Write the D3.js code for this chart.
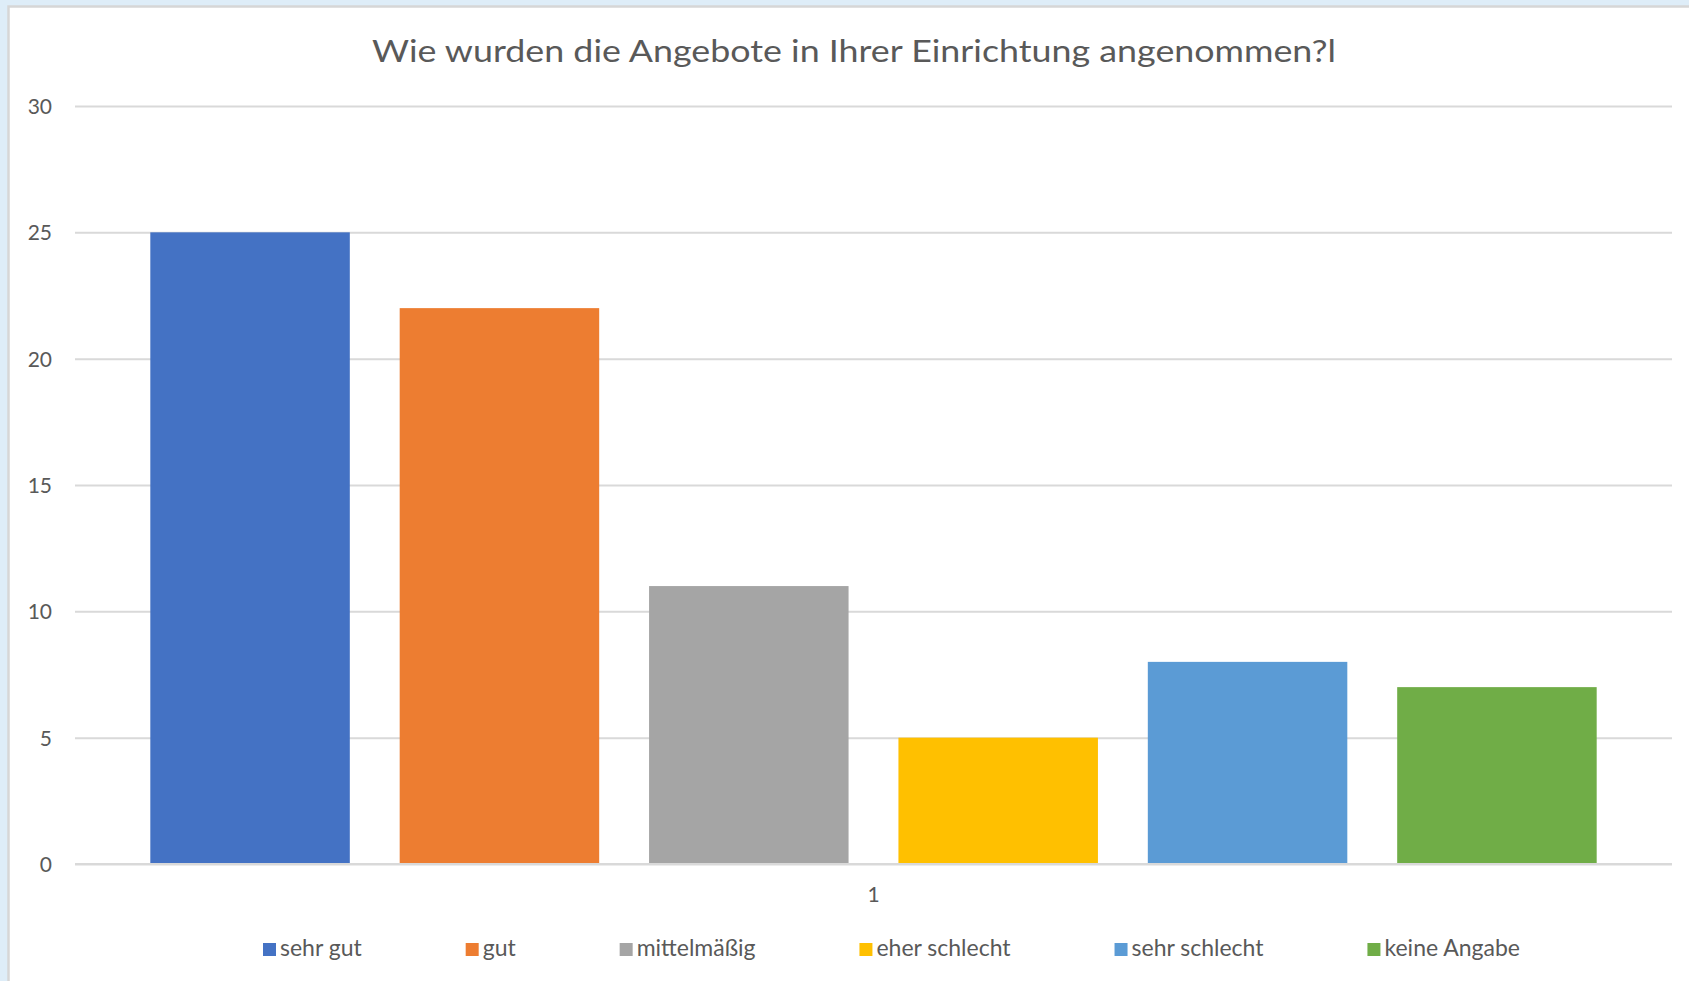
<!DOCTYPE html>
<html>
<head>
<meta charset="utf-8">
<script src="https://cdn.jsdelivr.net/npm/d3@7"></script>
<style>
  html, body { margin: 0; padding: 0; background: #deedf8; }
  svg { display: block; }
</style>
</head>
<body>
<svg id="chart" width="1689" height="981"></svg>
<script>
// ---- data ----
const title = "Wie wurden die Angebote in Ihrer Einrichtung angenommen?l";
const categories = ["1"];
const seriesNames = ["sehr gut", "gut", "mittelmäßig", "eher schlecht", "sehr schlecht", "keine Angabe"];
const seriesValues = [25, 22, 11, 5, 8, 7];
const seriesColors = ["#4472C4", "#ED7D31", "#A5A5A5", "#FFC000", "#5B9BD5", "#70AD47"];
const yTicks = [0, 5, 10, 15, 20, 25, 30];

// ---- layout ----
const W = 1689, H = 981;
const plot = { left: 75, right: 1672, top: 106, bottom: 864 };
const font = "Lato, 'Open Sans', sans-serif";
const textColor = "#595959";

const svg = d3.select("#chart");

// chart area background with border
svg.append("rect").attr("x", 0).attr("y", 0).attr("width", W).attr("height", H).attr("fill", "#deedf8");
svg.append("rect").attr("x", 8.5).attr("y", 6.5).attr("width", W).attr("height", H)
  .attr("fill", "#ffffff").attr("stroke", "#d6d6d6").attr("stroke-width", 2.5);

// scales
const y = d3.scaleLinear().domain([0, 30]).range([plot.bottom, plot.top]);
const x0 = d3.scaleBand().domain(categories).range([plot.left, plot.right]).padding(0);
const x1 = d3.scaleBand().domain(seriesNames).range([0, x0.bandwidth()])
  .paddingInner(0.2).paddingOuter(0.302);

// gridlines via axis
const yAxis = d3.axisLeft(y).tickValues(yTicks).tickSize(-(plot.right - plot.left)).tickPadding(23);
const gy = svg.append("g").attr("transform", `translate(${plot.left},0)`).call(yAxis);
gy.select(".domain").remove();
gy.selectAll(".tick line").attr("stroke", "#d9d9d9").attr("stroke-width", 2);
gy.selectAll(".tick text").attr("fill", textColor).attr("font-family", font)
  .attr("font-size", 21).attr("dy", "0.35em");

// bars
const gBars = svg.append("g");
categories.forEach(cat => {
  gBars.selectAll("rect.bar-" + cat)
    .data(seriesNames.map((s, i) => ({ s, v: seriesValues[i], c: seriesColors[i] })))
    .enter().append("rect")
    .attr("x", d => x0(cat) + x1(d.s))
    .attr("y", d => y(d.v))
    .attr("width", x1.bandwidth())
    .attr("height", d => y(0) - y(d.v))
    .attr("fill", d => d.c);
});

// x axis baseline
svg.append("line").attr("x1", plot.left).attr("x2", plot.right)
  .attr("y1", y(0)).attr("y2", y(0)).attr("stroke", "#d9d9d9").attr("stroke-width", 2);

// x axis category labels
const xAxis = d3.axisBottom(x0).tickSize(0).tickPadding(23);
const gx = svg.append("g").attr("transform", `translate(0,${y(0)})`).call(xAxis);
gx.select(".domain").remove();
gx.selectAll(".tick text").attr("fill", textColor).attr("font-family", font).attr("font-size", 21);

// title
const t = svg.append("text").attr("x", (372 + 1336) / 2).attr("y", 62)
  .attr("text-anchor", "middle").attr("fill", textColor)
  .attr("font-family", font).attr("font-size", 30).text(title);
const tw = t.node().getComputedTextLength();
const targetTitle = 1336 - 372;
if (Math.abs(tw - targetTitle) > 4) t.attr("textLength", targetTitle).attr("lengthAdjust", "spacingAndGlyphs");

// legend
const legStart = 263, legEnd = 1520, sq = 13, sqGap = 4, legBase = 956;
const gL = svg.append("g");
const items = seriesNames.map((s, i) => {
  const g = gL.append("g");
  g.append("rect").attr("width", sq).attr("height", sq).attr("y", legBase - sq).attr("fill", seriesColors[i]);
  const tx = g.append("text").attr("x", sq + sqGap).attr("y", legBase)
    .attr("fill", textColor).attr("font-family", font).attr("font-size", 23).text(s);
  return { g, w: sq + sqGap + tx.node().getComputedTextLength() };
});
const totalW = d3.sum(items, d => d.w);
const gap = (legEnd - legStart - totalW) / (items.length - 1);
let cx = legStart;
items.forEach(it => { it.g.attr("transform", `translate(${cx},0)`); cx += it.w + gap; });
</script>
</body>
</html>
